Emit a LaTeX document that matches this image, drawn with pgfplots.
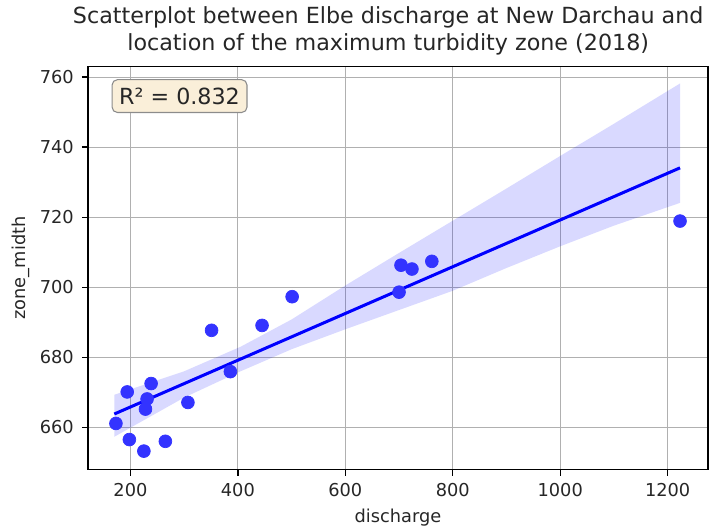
\documentclass[border=0pt]{standalone}
\usepackage{pgfplots}
\pgfplotsset{compat=1.18}
\usepackage{fontspec}
\setmainfont{DejaVu Sans}

\definecolor{ptblue}{HTML}{3333FF}
\definecolor{boxfill}{HTML}{FAEFD9}
\definecolor{gridgray}{HTML}{B0B0B0}

\begin{document}
\begin{tikzpicture}
\begin{axis}[
    name=ax,
    scale only axis,
    width=348.75pt, height=226.5pt,
    xmin=121, xmax=1275,
    ymin=648, ymax=763,
    xtick={200,400,...,1200},
    ytick={660,680,...,760},
    grid=major,
    grid style={gridgray, line width=0.6pt},
    axis line style={line width=0.8pt},
    tick align=outside,
    major tick length=3.5pt,
    tick style={black, line width=0.8pt},
    xtick pos=bottom, ytick pos=left,
    ticklabel style={font=\fontsize{10}{12}\selectfont, text=black!85},
    /pgf/number format/assume math mode=true,
    /pgf/number format/1000 sep={},
    xticklabel style={yshift=-1pt},
    yticklabel style={xshift=-1pt},
    xlabel={discharge},
    ylabel={zone\_midth},
    ylabel style={yshift=-1pt},
    label style={font=\fontsize{10}{12}\selectfont, text=black!85},
    title={Scatterplot between Elbe discharge at New Darchau and\\location of the maximum turbidity zone (2018)},
    title style={align=center, font=\fontsize{12.5}{15}\selectfont, text=black!85, yshift=-3pt, xshift=-5.5pt},
]

% confidence band (upper edge left to right, lower edge right to left)
\addplot[draw=none, fill=blue, fill opacity=0.15] coordinates {
    (170,669.3) (300,676.0) (405,683.0) (500,690.8) (600,700.5) (700,709.8)
    (800,719.0) (900,728.2) (1000,737.5) (1100,746.7) (1223,758.2)
    (1223,724.1) (1100,717.6) (1000,711.7) (900,705.5) (800,699.0)
    (700,693.5) (600,688.0) (500,682.3) (405,676.0) (300,668.5) (170,657.3)
} -- cycle;

% observations
\addplot[only marks, mark=*, mark size=3.6pt, mark options={draw=ptblue, fill=ptblue}] coordinates {
    (173,661.1) (194,670.1) (198,656.5) (225,653.2) (231,668.1) (228,665.2)
    (238.5,672.5) (265,656.0) (307,667.1) (351,687.7) (386,675.9) (445,689.1)
    (501,697.3) (700,698.6) (703.6,706.3) (724,705.2) (761,707.4) (1223,718.9)
};

% regression line
\addplot[blue, line width=1.7pt] coordinates {(170,663.8) (1223,734.1)};

\node[anchor=north west, draw=black!45, fill=boxfill, rounded corners=3pt,
      line width=0.6pt, inner xsep=4pt, inner ysep=4.5pt, text=black!85,
      font=\fontsize{12.5}{14}\selectfont]
    at (rel axis cs:0.038,0.969) {R² = 0.832};
\end{axis}
\pgfresetboundingbox
\path ([shift={(-49.5pt,-31.9pt)}]ax.south west) rectangle ([shift={(1.7pt,37.5pt)}]ax.north east);
\end{tikzpicture}
\end{document}
